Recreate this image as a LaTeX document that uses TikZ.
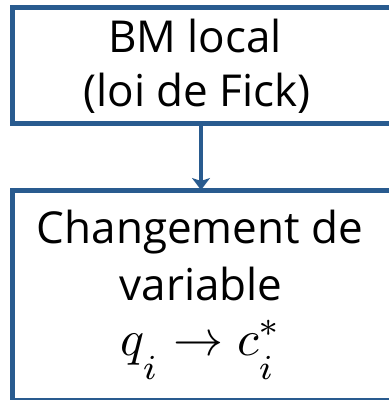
\documentclass[tikz,border=0pt]{standalone}
\usepackage{graphicx}
\usepackage[no-math]{fontspec}
\setmainfont{Open Sans}
\usetikzlibrary{arrows.meta}
\definecolor{boxblue}{RGB}{41,91,143}
\tikzset{
  boxnode/.style={draw=boxblue, line width=5pt, rectangle, inner sep=0pt, outer sep=0pt},
  lbl/.style={anchor=base, inner sep=0pt, font=\fontsize{44}{53}\selectfont},
  mathlbl/.style={anchor=base, inner sep=0pt, font=\fontsize{10}{12}\selectfont},
  arr/.style={draw=boxblue, line width=4pt, -{Stealth[length=12pt,width=18pt,inset=3pt]}}
}
\begin{document}
\begin{tikzpicture}[x=1pt,y=-1pt]
\useasboundingbox (0,0) rectangle (389,400);
\node[boxnode, minimum width=381pt, minimum height=115.5pt] (top) at (202.5,65.25) {};
\node[boxnode, minimum width=381pt, minimum height=210pt] (bot) at (202.5,295) {};
\coordinate (ax) at (201,0);
\draw[arr] (top.south -| ax) -- (bot.north -| ax);
\node[lbl] (t1) at (195,52) {BM local};
\node[lbl] (t2) at (197,106) {(loi de Fick)};
\node[lbl] (b1) at (200,243) {Changement de};
\node[lbl] (b2) at (201,300) {variable};
\node[mathlbl] (b3) at (201,355) {\scalebox{5}{$q_{\raisebox{-3.4pt}{$\scriptstyle i$}} \rightarrow c_{\raisebox{-2.5pt}{$\scriptstyle i$}}^{*}$}};
\end{tikzpicture}
\end{document}
